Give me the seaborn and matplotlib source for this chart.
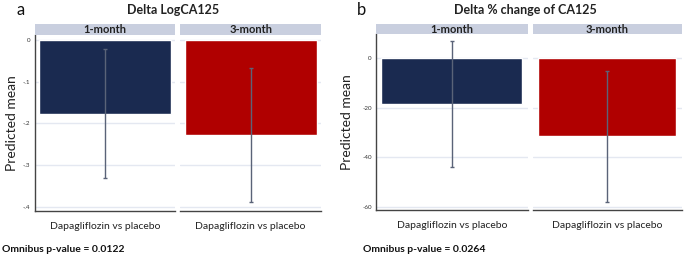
import matplotlib
matplotlib.use("Agg")
import matplotlib.pyplot as plt
import seaborn as sns
import pandas as pd
import numpy as np

sns.set_style("white")
plt.rcParams['font.family'] = ['Lato', 'DejaVu Sans']

# ---- data ----
facets = ["1-month", "3-month"]
category = ["Dapagliflozin vs placebo"]
log_mean = [-0.177, -0.228]
log_lo = [-0.331, -0.388]
log_hi = [-0.022, -0.068]
pct_mean = [-18.5, -31.6]
pct_lo = [-43.9, -58.2]
pct_hi = [7.0, -5.0]
log_ticks = [0, -0.1, -0.2, -0.3, -0.4]
log_ticklabels = ["0", "-.1", "-.2", "-.3", "-.4"]
pct_ticks = [0, -20, -40, -60]
pct_ticklabels = ["0", "-20", "-40", "-60"]
bar_colors = ["#1a2a50", "#b00000"]
strip_color = "#c9cfdf"
grid_color = "#e4e8f1"
W, H = 685, 256

fig = plt.figure(figsize=(W / 100, H / 100), dpi=100)


def rect(x0, y0, x1, y1):
    return [x0 / W, 1 - y1 / H, (x1 - x0) / W, (y1 - y0) / H]


def draw_panel(xs, ytop, ybot, means, lo, hi, ylim, ticks, ticklabels,
               barw, title, letter, letter_x, title_x, ylab_x, pval, pval_x):
    axes = []
    for i, (x0, x1) in enumerate(xs):
        ax = fig.add_axes(rect(x0, ytop, x1, ybot))
        df = pd.DataFrame({"cat": category, "val": [means[i]]})
        sns.barplot(data=df, x="cat", y="val", color=bar_colors[i],
                    errorbar=None, width=barw, ax=ax, saturation=1, zorder=2)
        ax.errorbar([0], [means[i]],
                    yerr=[[means[i] - lo[i]], [hi[i] - means[i]]],
                    fmt="none", ecolor="#5a6378", elinewidth=1.0,
                    capsize=1.5, capthick=1.0, zorder=3)
        ax.set_xlim(-0.5, 0.5)
        ax.set_ylim(*ylim)
        ax.set_yticks(ticks)
        ax.set_xlabel("")
        ax.set_ylabel("")
        for t in ticks:
            ax.axhline(t, color=grid_color, lw=1.0, zorder=0)
        for s in ["top", "right"]:
            ax.spines[s].set_visible(False)
        ax.spines["bottom"].set_color("#444444")
        ax.spines["bottom"].set_linewidth(1.0)
        if i == 0:
            ax.set_yticklabels(ticklabels)
            ax.spines["left"].set_color("#444444")
            ax.spines["left"].set_linewidth(1.0)
            ax.tick_params(axis="y", length=2, width=0.6, color="#555555",
                           labelsize=4.5, labelcolor="#333333", pad=1)
        else:
            ax.spines["left"].set_visible(False)
            ax.tick_params(axis="y", length=0, labelleft=False)
        ax.tick_params(axis="x", length=2, width=0.6, color="#555555",
                       labelsize=7.5, labelcolor="#222222", pad=6)
        # strip
        sax = fig.add_axes(rect(x0, ytop - 10.5, x1, ytop))
        sax.set_facecolor(strip_color)
        sax.set_xticks([])
        sax.set_yticks([])
        for s in sax.spines.values():
            s.set_visible(False)
        sax.text(0.5, 0.5, facets[i], ha="center", va="center",
                 fontsize=8, fontweight="bold", color="#222222",
                 transform=sax.transAxes)
        axes.append(ax)
    fig.text(letter_x / W, 1 - 10 / H, letter, fontsize=12, ha="center",
             va="center", color="#111111")
    fig.text(title_x / W, 1 - 10.5 / H, title, fontsize=9, fontweight="bold",
             ha="center", va="center", color="#222222")
    fig.text(ylab_x / W, 1 - ((ytop + ybot) / 2) / H, "Predicted mean",
             rotation=90, fontsize=10, ha="center", va="center",
             color="#222222")
    fig.text(pval_x / W, 1 - 249 / H, pval, fontsize=7.5, fontweight="bold",
             ha="left", va="center", color="#111111")
    return axes


draw_panel([(34.7, 174.7), (180.3, 321)], 34.7, 210.7,
           log_mean, log_lo, log_hi, (-0.41, 0.013), log_ticks,
           log_ticklabels, 0.94, "Delta LogCA125", "a", 21, 173, 12,
           "Omnibus p-value = 0.0122", 2)
draw_panel([(376, 527.7), (532.7, 681.7)], 34.3, 210,
           pct_mean, pct_lo, pct_hi, (-61.4, 9.7), pct_ticks,
           pct_ticklabels, 0.93, "Delta % change of CA125", "b", 362, 525,
           347, "Omnibus p-value = 0.0264", 363)

fig.savefig("out.png", dpi=100)
